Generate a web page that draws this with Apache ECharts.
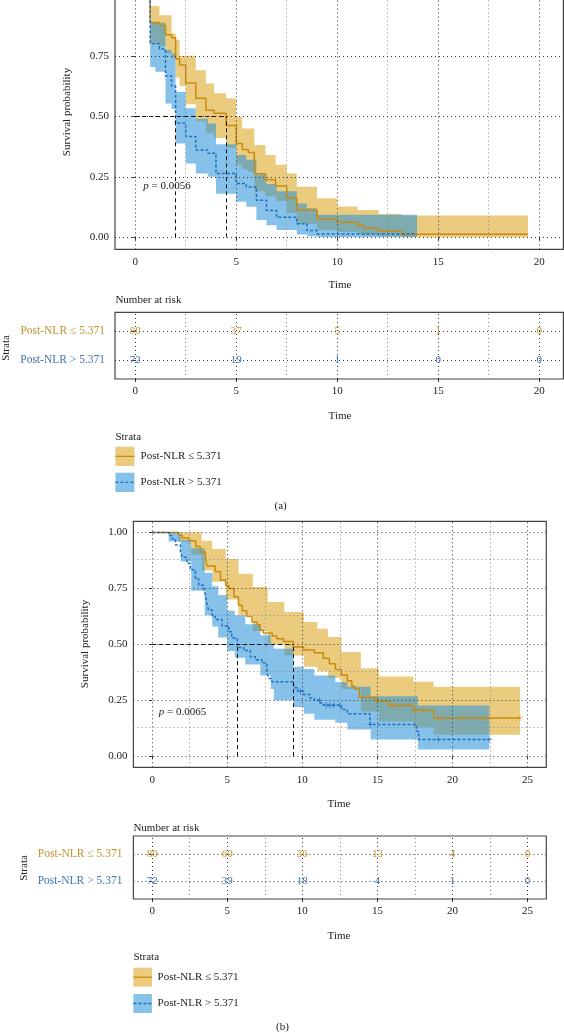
<!DOCTYPE html>
<html><head><meta charset="utf-8">
<script src="https://cdn.jsdelivr.net/npm/echarts@6/dist/echarts.min.js"></script>
<style>html,body{margin:0;padding:0;background:#fff}#c{width:564px;height:1032px}</style>
</head><body><div id="c"></div>
<script>
// ---------- data: panel (a) ----------
const strata = ['Post-NLR \u2264 5.371', 'Post-NLR > 5.371'];
const aGoldT  = [0, 0.74, 1.2, 1.5, 1.8, 2.0, 2.2, 2.5, 3.0, 3.5, 3.9, 4.5, 5.0, 5.3, 5.6, 5.9, 6.45, 6.95, 7.5, 8.0, 9.0, 10.0, 11.0, 11.3, 12.05, 13.2, 19.45];
const aGoldS  = [1, .8875, .875, .8375, .825, .7375, .7125, .6375, .575, .525, .5125, .4625, .3875, .3625, .35, .2625, .2375, .2125, .1625, .1125, .075, .0625, .05, .0375, .025, .0125, .0125];
const aGoldHi = [1, .956, .918, .918, .843, .815, .75, .75, .69, .636, .595, .575, .498, .45, .45, .381, .34, .30, .264, .209, .161, .127, .113, .113, .096, .09, .085];
const aGoldLo = [1, .80, .79, .76, .74, .66, .625, .55, .48, .43, .41, .37, .30, .28, .27, .19, .17, .15, .10, .055, .03, .022, .015, .008, .004, .001, .001];
const aBlueT  = [0, 0.74, 1.0, 1.2, 1.5, 1.8, 2.0, 2.5, 3.0, 3.6, 4.0, 5.0, 5.5, 6.0, 6.5, 7.0, 8.0, 8.5, 9.0, 13.95];
const aBlueS  = [1, .80, .80, .778, .667, .625, .472, .417, .361, .347, .264, .222, .208, .153, .111, .083, .056, .028, .014, .014];
const aBlueHi = [1, .887, .887, .887, .775, .76, .60, .533, .49, .47, .385, .34, .32, .26, .22, .19, .14, .12, .093, .093];
const aBlueLo = [1, .704, .684, .684, .553, .53, .388, .305, .264, .25, .18, .147, .126, .072, .05, .03, .012, .004, .001, .001];
const aMedians = [2.0, 4.5];
const aPValue = '0.0056';
const riskATimes = [0, 5, 10, 15, 20];
const riskAGold = [80, 37, 5, 1, 0];
const riskABlue = [72, 19, 1, 0, 0];
const xTicksA = [0, 5, 10, 15, 20];
const xMinorA = [2.5, 7.5, 12.5, 17.5];

// ---------- data: panel (b) ----------
const bGoldT = [0, 1.75, 2.0, 2.45, 2.9, 3.2, 3.55, 3.65, 4.2, 4.55, 4.9, 5.1, 5.45, 5.75, 6.0, 6.3, 6.65, 7.0, 7.2, 7.4, 8.0, 8.3, 8.75, 9.4, 10.1, 10.8, 11.4, 11.8, 12.2, 12.6, 13.0, 13.3, 13.5, 13.8, 14.9, 15.75, 17.4, 18.75, 24.5];
const bGoldS = [1, .9875, .975, .9625, .9375, .9125, .8875, .85, .825, .7875, .7625, .75, .7125, .675, .65, .625, .6, .5875, .5625, .55, .5375, .525, .5125, .4875, .475, .4625, .4375, .4125, .3875, .3625, .3375, .3125, .3, .2625, .245, .226, .205, .171, .171];
const bGoldBandT = [0, 1.75, 2.6, 3.3, 4.0, 4.9, 5.75, 6.7, 7.7, 8.8, 10.1, 11.0, 11.7, 12.6, 13.9, 15.1, 17.4, 18.75, 24.5];
const bGoldHi = [1, 1, 1, .963, .926, .881, .815, .756, .689, .644, .60, .57, .533, .466, .393, .356, .333, .31, .31];
const bGoldLo = [1, .96, .90, .83, .78, .70, .63, .56, .50, .45, .40, .38, .35, .30, .20, .155, .13, .096, .096];
const bBlueT = [0, 1.1, 1.33, 1.55, 1.88, 2.0, 2.32, 2.54, 2.88, 3.1, 3.43, 3.54, 3.65, 3.76, 4.0, 4.2, 4.65, 5.1, 5.3, 5.67, 6.09, 6.54, 6.87, 7.31, 7.64, 7.76, 7.98, 9.42, 9.7, 10.1, 10.5, 10.8, 11.2, 11.4, 12.6, 13.0, 14.5, 17.6, 17.75, 22.45];
const bBlueS = [1, .986, .972, .944, .917, .889, .861, .833, .792, .764, .75, .722, .681, .653, .625, .611, .583, .556, .528, .486, .472, .444, .431, .417, .375, .347, .333, .306, .29, .275, .26, .25, .237, .228, .208, .19, .141, .111, .074, .074];
const bBlueBandT = [0, 1.1, 1.9, 2.6, 3.5, 4.0, 4.4, 5.0, 5.5, 6.2, 7.2, 7.9, 8.1, 9.4, 10.1, 10.8, 12.2, 13.0, 14.55, 17.7, 22.45];
const bBlueHi = [1, 1, .966, .93, .82, .76, .72, .65, .63, .59, .54, .50, .48, .40, .39, .36, .33, .31, .268, .226, .226];
const bBlueLo = [1, .96, .87, .74, .63, .58, .53, .47, .44, .41, .36, .30, .25, .22, .19, .163, .149, .119, .074, .03, .03];
const bGoldCensT = [13.95, 15.9, 16.3, 17.5, 18.0, 19.06, 20.7, 22.2, 24.5];
const bGoldCensS = [.2625, .226, .226, .205, .205, .171, .171, .171, .171];
const bBlueCensT = [9.87, 11.14, 11.6, 11.85, 12.1, 12.5, 14.53, 19.06, 22.45];
const bBlueCensS = [.29, .25, .228, .228, .228, .228, .141, .074, .074];
const bMedians = [5.67, 9.4];
const bPValue = '0.0065';
const riskBTimes = [0, 5, 10, 15, 20, 25];
const riskBGold = [80, 60, 36, 13, 4, 0];
const riskBBlue = [72, 39, 18, 4, 1, 0];
const xTicksB = [0, 5, 10, 15, 20, 25];
const xMinorB = [2.5, 7.5, 12.5, 17.5, 22.5];

const yTicks = [0, 0.25, 0.5, 0.75, 1];
const yMinor = [0.125, 0.375, 0.625, 0.875];

// ---------- styles ----------
const FONT = '"Liberation Serif", "DejaVu Serif", serif';
const GOLD_FILL = 'rgba(222,170,40,0.6)';
const BLUE_FILL = 'rgba(40,145,215,0.56)';
const GOLD_LINE = '#C98A10';
const BLUE_LINE = '#1F6FC2';
const GOLD_TXT = '#C0922E';
const BLUE_TXT = '#3F76B0';
const TXT = '#222';
const MAJ = {color: '#333', width: 1, type: [1, 3]};
const MIN = {color: '#888', width: 1, type: [1, 3]};

const pairs = (ts, ss) => ts.map((t, i) => [t, ss[i]]);

function ribbon(ts, lo, hi, fill, ai) {
  return {
    type: 'custom', xAxisIndex: ai, yAxisIndex: ai, coordinateSystem: 'cartesian2d',
    silent: true, clip: true, z: 2, data: [[0, 0]],
    renderItem: (params, api) => {
      const pts = [];
      for (let i = 0; i < ts.length - 1; i++) {
        pts.push(api.coord([ts[i], hi[i]]));
        pts.push(api.coord([ts[i + 1], hi[i]]));
      }
      for (let i = ts.length - 2; i >= 0; i--) {
        pts.push(api.coord([ts[i + 1], lo[i]]));
        pts.push(api.coord([ts[i], lo[i]]));
      }
      return {type: 'polygon', shape: {points: pts}, style: {fill: fill}};
    }
  };
}

function gridLines(ai, xMaj, xMin, yMaj, yMin) {
  const d = [];
  xMaj.forEach(v => d.push({xAxis: v, lineStyle: MAJ}));
  xMin.forEach(v => d.push({xAxis: v, lineStyle: MIN}));
  yMaj.forEach(v => d.push({yAxis: v, lineStyle: MAJ}));
  yMin.forEach(v => d.push({yAxis: v, lineStyle: MIN}));
  return {
    type: 'line', xAxisIndex: ai, yAxisIndex: ai, data: [[0, 1]], showSymbol: false, silent: true,
    lineStyle: {opacity: 0}, z: 1,
    markLine: {silent: true, symbol: ['none', 'none'], label: {show: false}, animation: false, data: d}
  };
}

function medianLines(ai, meds) {
  const mx = Math.max.apply(null, meds);
  const d = [[{coord: [0, 0.5]}, {coord: [mx, 0.5]}]];
  meds.forEach(m => d.push([{coord: [m, 0]}, {coord: [m, 0.5]}]));
  return {
    type: 'line', xAxisIndex: ai, yAxisIndex: ai, data: [[0, 1]], showSymbol: false, silent: true,
    lineStyle: {opacity: 0}, z: 5,
    markLine: {silent: true, symbol: ['none', 'none'], label: {show: false}, animation: false,
      lineStyle: {color: '#111', width: 1, type: [4, 3]}, data: d}
  };
}

function kmLine(ai, ts, ss, color, dashed) {
  return {
    type: 'line', xAxisIndex: ai, yAxisIndex: ai, step: 'end', showSymbol: false, silent: true, z: 4,
    data: pairs(ts, ss),
    lineStyle: {color: color, width: 1.5, type: dashed ? [3, 2] : 'solid'}
  };
}

const PLUS = 'path://M-0.14,-1H0.14V-0.14H1V0.14H0.14V1H-0.14V0.14H-1V-0.14H-0.14Z';
function censor(ai, ts, ss, color) {
  return {type: 'scatter', xAxisIndex: ai, yAxisIndex: ai, symbol: PLUS, symbolSize: 6, silent: true, z: 6,
    itemStyle: {color: color}, data: pairs(ts, ss)};
}

function riskSeries(ai, times, counts, row, color) {
  return {type: 'custom', xAxisIndex: ai, yAxisIndex: ai, coordinateSystem: 'cartesian2d', silent: true, z: 5,
    data: times.map((t, i) => [t, row, counts[i]]),
    renderItem: (params, api) => {
      const p = api.coord([api.value(0), api.value(1)]);
      return {type: 'text', x: p[0], y: p[1],
        style: {text: String(api.value(2)), fill: color, font: '11px ' + FONT, align: 'center', verticalAlign: 'middle'}};
    }};
}

function kmX(ai, mn, mx, ticks) {
  return {type: 'value', gridIndex: ai, min: mn, max: mx,
    axisLine: {show: false}, splitLine: {show: false},
    axisTick: {show: true, length: 3, customValues: ticks, lineStyle: {color: '#333'}},
    axisLabel: {customValues: ticks, color: TXT, fontFamily: FONT, fontSize: 11, margin: 7}};
}
function kmY(ai) {
  return {type: 'value', gridIndex: ai, min: -0.05, max: 1.05,
    axisLine: {show: false}, splitLine: {show: false},
    axisTick: {show: true, length: 3, customValues: yTicks, lineStyle: {color: '#333'}},
    axisLabel: {customValues: yTicks, formatter: v => v.toFixed(2), color: TXT, fontFamily: FONT, fontSize: 11, margin: 6}};
}
function riskY(ai, margin) {
  return {type: 'value', gridIndex: ai, min: 0.35, max: 2.65,
    axisLine: {show: false}, splitLine: {show: false},
    axisTick: {show: true, length: 3, customValues: [1, 2], lineStyle: {color: '#333'}},
    axisLabel: {customValues: [1, 2], margin: margin,
      formatter: v => (v === 2 ? '{g|' + strata[0] + '}' : '{b|' + strata[1] + '}'),
      rich: {g: {color: GOLD_TXT, fontFamily: FONT, fontSize: 11.5}, b: {color: BLUE_TXT, fontFamily: FONT, fontSize: 11.5}}}};
}

const border = {show: true, borderColor: '#444', borderWidth: 1.2, backgroundColor: 'transparent', outerBoundsMode: 'none', containLabel: false};
const grids = [
  Object.assign({left: 115, top: -16.8, width: 448.4, height: 266.2}, border),
  Object.assign({left: 115, top: 312.3, width: 448.4, height: 66.7}, border),
  Object.assign({left: 133.4, top: 521.3, width: 412.9, height: 246}, border),
  Object.assign({left: 133.4, top: 836, width: 412.9, height: 63}, border)
];

function txt(x, y, s, opt) {
  opt = opt || {};
  return {type: 'text', x: x, y: y, rotation: opt.rot || 0, silent: true, z: 10,
    style: {text: s, fill: opt.color || TXT, font: (opt.size || 11) + 'px ' + FONT,
      align: opt.align || 'center', verticalAlign: 'middle', rich: opt.rich}};
}
function legendKey(x, y, w, h, fill, line, dashed) {
  return [
    {type: 'rect', shape: {x: x, y: y, width: w, height: h}, style: {fill: fill}, silent: true},
    {type: 'line', shape: {x1: x, y1: y + h / 2, x2: x + w, y2: y + h / 2},
      style: {stroke: line, lineWidth: 1.3, lineDash: dashed ? [3, 2] : null}, silent: true}
  ];
}
const pRich = {i: {fontStyle: 'italic', fontFamily: FONT, fontSize: 11, fill: TXT, color: TXT}};

const graphics = [
  txt(67, 112, 'Survival probability', {rot: Math.PI / 2}),
  txt(340, 285, 'Time'),
  txt(115.4, 300, 'Number at risk', {align: 'left'}),
  txt(6.5, 348, 'Strata', {rot: Math.PI / 2}),
  txt(340, 416, 'Time'),
  txt(115.4, 437, 'Strata', {align: 'left'}),
  txt(140.6, 456.3, strata[0], {align: 'left'}),
  txt(140.6, 482.3, strata[1], {align: 'left'}),
  txt(280.6, 506, '(a)'),
  txt(143.3, 185.7, '{i|p} = ' + aPValue, {align: 'left', rich: pRich}),
  txt(85.5, 644, 'Survival probability', {rot: Math.PI / 2}),
  txt(339, 804, 'Time'),
  txt(133.4, 828, 'Number at risk', {align: 'left'}),
  txt(23.8, 868, 'Strata', {rot: Math.PI / 2}),
  txt(339, 936, 'Time'),
  txt(133.4, 957, 'Strata', {align: 'left'}),
  txt(157.6, 977.2, strata[0], {align: 'left'}),
  txt(157.6, 1003.4, strata[1], {align: 'left'}),
  txt(282.4, 1027, '(b)'),
  txt(158.7, 712, '{i|p} = ' + bPValue, {align: 'left', rich: pRich})
].concat(
  legendKey(115.4, 446.7, 19, 19.3, GOLD_FILL, GOLD_LINE, false),
  legendKey(115.4, 472.7, 19, 19.3, BLUE_FILL, BLUE_LINE, true),
  legendKey(133.4, 967.7, 18.5, 19, GOLD_FILL, GOLD_LINE, false),
  legendKey(133.4, 994, 18.5, 19, BLUE_FILL, BLUE_LINE, true)
);

const option = {
  animation: false,
  backgroundColor: '#fff',
  grid: grids,
  xAxis: [kmX(0, -1, 21.2, xTicksA), kmX(1, -1, 21.2, xTicksA), kmX(2, -1.25, 26.25, xTicksB), kmX(3, -1.25, 26.25, xTicksB)],
  yAxis: [kmY(0), riskY(1, 10), kmY(2), riskY(3, 11)],
  graphic: graphics,
  series: [
    gridLines(0, xTicksA, xMinorA, yTicks, []),
    ribbon(aGoldT, aGoldLo, aGoldHi, GOLD_FILL, 0),
    ribbon(aBlueT, aBlueLo, aBlueHi, BLUE_FILL, 0),
    kmLine(0, aGoldT, aGoldS, GOLD_LINE, false),
    kmLine(0, aBlueT, aBlueS, BLUE_LINE, true),
    medianLines(0, aMedians),

    gridLines(1, xTicksA, xMinorA, [1, 2], []),
    riskSeries(1, riskATimes, riskAGold, 2, GOLD_TXT),
    riskSeries(1, riskATimes, riskABlue, 1, BLUE_TXT),

    gridLines(2, xTicksB, xMinorB, yTicks, yMinor),
    ribbon(bGoldBandT, bGoldLo, bGoldHi, GOLD_FILL, 2),
    ribbon(bBlueBandT, bBlueLo, bBlueHi, BLUE_FILL, 2),
    kmLine(2, bGoldT, bGoldS, GOLD_LINE, false),
    kmLine(2, bBlueT, bBlueS, BLUE_LINE, true),
    censor(2, bGoldCensT, bGoldCensS, GOLD_LINE),
    censor(2, bBlueCensT, bBlueCensS, BLUE_LINE),
    medianLines(2, bMedians),

    gridLines(3, xTicksB, xMinorB, [1, 2], []),
    riskSeries(3, riskBTimes, riskBGold, 2, GOLD_TXT),
    riskSeries(3, riskBTimes, riskBBlue, 1, BLUE_TXT)
  ]
};
const chart = echarts.init(document.getElementById('c'));
chart.setOption(option);
</script></body></html>
